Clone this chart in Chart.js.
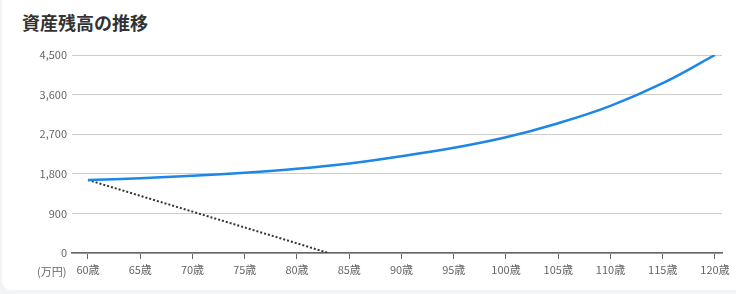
<!DOCTYPE html>
<html lang="ja">
<head>
<meta charset="utf-8">
<script src="https://cdn.jsdelivr.net/npm/chart.js@4"></script>
<style>
  html, body { margin: 0; padding: 0; background: #f3f4f6; }
  body { width: 736px; height: 294px; position: relative; overflow: hidden; font-family: "Noto Sans CJK JP", "Noto Sans", sans-serif; }
  .card { position: absolute; left: 2px; top: -20px; width: 760px; height: 310px; background: #fff; border-radius: 9px; }
  .title { position: absolute; left: 22px; top: 9px; margin: 0; font-size: 18px; font-weight: bold; color: #333; line-height: 26px; }
  .unit { position: absolute; left: 37px; top: 263px; font-size: 11px; color: #666; line-height: 16px; }
  .wrap { position: absolute; left: 0; top: 0; width: 736px; height: 294px; }
</style>
</head>
<body>
<div class="card"></div>
<h2 class="title">資産残高の推移</h2>
<div class="wrap"><canvas id="balance_chart"></canvas></div>
<span class="unit">(万円)</span>
<script>
// ages (x) and balances in 万円
var ages = [60, 65, 70, 75, 80, 85, 90, 95, 100, 105, 110, 115, 120]
var balance_invested = [1660, 1700, 1755, 1825, 1915, 2035, 2200, 2390, 2630, 2950, 3345, 3860, 4500]
var ages_cash = [60, 65, 70, 75, 80, 83]
var balance_cash = [1660, 1300, 940, 580, 220, 0]
var age_ticks = [60, 65, 70, 75, 80, 85, 90, 95, 100, 105, 110, 115, 120]
var balance_ticks = [0, 900, 1800, 2700, 3600, 4500]

function to_points(xs, ys){
    let points = []
    for (let i = 0; i < xs.length; i++) {
        points.push({x: xs[i], y: ys[i]})
    }
    return points
}

Chart.defaults.font.family = '"Noto Sans CJK JP", "Noto Sans", sans-serif';
Chart.defaults.font.size = 11;
Chart.defaults.color = '#666';

var ctx = document.getElementById('balance_chart');
var lineChart = new Chart(ctx, {
    type: 'line',
    data: {
        datasets: [{
            label: '運用あり',
            data: to_points(ages, balance_invested),
            borderColor: '#1e86e6',
            borderWidth: 2.5,
            pointRadius: 0,
            tension: 0.4,
            fill: false
        }, {
            label: '運用なし',
            data: to_points(ages_cash, balance_cash),
            borderColor: '#333',
            borderWidth: 2,
            borderDash: [2, 2],
            pointRadius: 0,
            fill: false
        }]
    },
    options: {
        responsive: true,
        maintainAspectRatio: false,
        animation: false,
        layout: { padding: { top: 55, right: 14, left: 0, bottom: 0 } },
        plugins: { legend: { display: false }, tooltip: { enabled: false } },
        scales: {
            x: {
                type: 'linear',
                min: 58.47,
                max: 120.67,
                afterBuildTicks: (scale) => { scale.ticks = age_ticks.map(v => ({value: v})) },
                afterFit: (scale) => { scale.height = 41 },
                ticks: { padding: 4, maxRotation: 0, autoSkip: false, callback: (v) => v + '歳' },
                grid: { drawOnChartArea: false, drawTicks: true, tickLength: 6, color: '#666' },
                border: { display: true, color: '#666', width: 1.5 }
            },
            y: {
                min: 0,
                max: 4500,
                afterBuildTicks: (scale) => { scale.ticks = balance_ticks.map(v => ({value: v})) },
                afterFit: (scale) => { scale.width = 72 },
                ticks: { padding: 5 },
                grid: { color: '#ccc', drawTicks: false },
                border: { display: false }
            }
        }
    }
});
</script>
</body>
</html>
